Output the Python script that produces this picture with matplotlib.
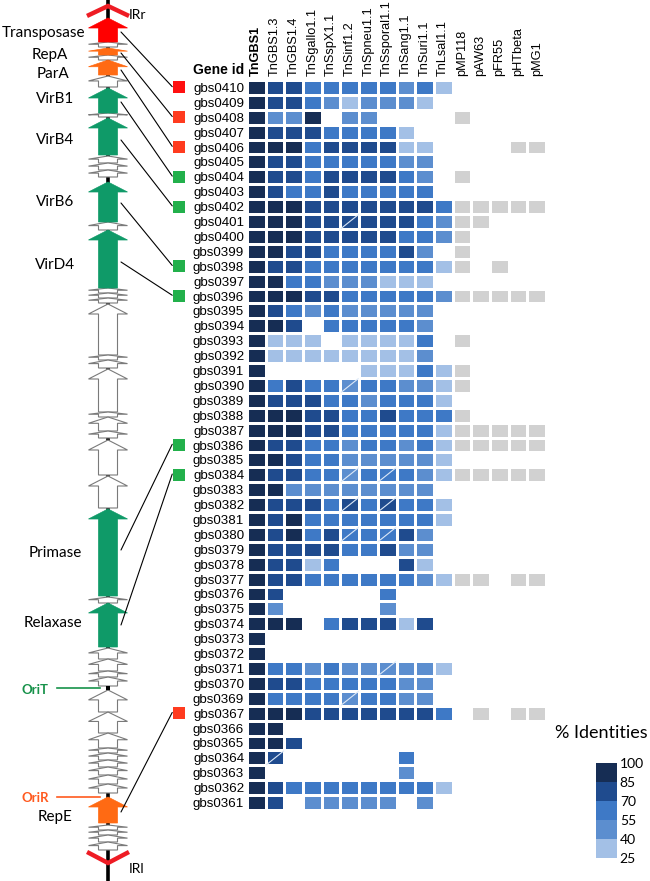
import numpy as np
import matplotlib
matplotlib.use('Agg')
import matplotlib.pyplot as plt
from matplotlib.colors import ListedColormap, BoundaryNorm
from matplotlib.patches import Polygon, Rectangle, ConnectionPatch
import matplotlib.colorbar as mcolorbar

# ---------------- data ----------------
genomes = ['TnGBS1', 'TnGBS1.3', 'TnGBS1.4', 'TnSgallo1.1', 'TnSspX1.1', 'TnSinf1.2',
           'TnSpneu1.1', 'TnSsporal1.1', 'TnSang1.1', 'TnSuri1.1', 'TnLsal1.1',
           'pMP118', 'pAW63', 'pFR55', 'pHTbeta', 'pMG1']

gene_ids = ['gbs0410', 'gbs0409', 'gbs0408', 'gbs0407', 'gbs0406', 'gbs0405', 'gbs0404',
            'gbs0403', 'gbs0402', 'gbs0401', 'gbs0400', 'gbs0399', 'gbs0398', 'gbs0397',
            'gbs0396', 'gbs0395', 'gbs0394', 'gbs0393', 'gbs0392', 'gbs0391', 'gbs0390',
            'gbs0389', 'gbs0388', 'gbs0387', 'gbs0386', 'gbs0385', 'gbs0384', 'gbs0383',
            'gbs0382', 'gbs0381', 'gbs0380', 'gbs0379', 'gbs0378', 'gbs0377', 'gbs0376',
            'gbs0375', 'gbs0374', 'gbs0373', 'gbs0372', 'gbs0371', 'gbs0370', 'gbs0369',
            'gbs0367', 'gbs0366', 'gbs0365', 'gbs0364', 'gbs0363', 'gbs0362', 'gbs0361']

# identity class per cell: 1..5 = bins 25-40 ... 85-100, '.' = absent, 'g' = homolog (grey)
identity_class = [
    '54433333231.....', '5443212221......', '5225.22....g....', '544433331.......',
    '5553444411....gg', '5443333322......', '5443444432.g....', '5433433333......',
    '55544444443ggggg', '55544444432gg...', '55544444332g....', '5544333342.g....',
    '54433333331g.g..', '5533222111......', '55544333332ggggg', '5432322222......',
    '554.333332......', '5111.11113.g....', '5111111112......', '5.....11131g....',
    '53433233221g....', '54443323331.....', '55544334333g....', '55544333331ggggg',
    '54433233231ggggg', '55433222221.....', '54433233321ggggg', '5522222222......',
    '54443434331.....', '54533333331.....', '5453433342......', '5444433422......',
    '54413...41......', '54433333321gg.gg', '54.....3........', '52.....2........',
    '555.344414......', '5...............', '5...............', '53323222221.....',
    '5443333322......', '5333323322......', '55544444443.g.gg', '55..............',
    '554.............', '54......3.......', '5.......2.......', '54333333331.....',
    '54.22222.2......']

split_cells = [('gbs0401', 'TnSinf1.2'), ('gbs0390', 'TnSinf1.2'), ('gbs0384', 'TnSinf1.2'),
               ('gbs0384', 'TnSsporal1.1'), ('gbs0382', 'TnSinf1.2'), ('gbs0382', 'TnSsporal1.1'),
               ('gbs0380', 'TnSinf1.2'), ('gbs0380', 'TnSsporal1.1'), ('gbs0371', 'TnSsporal1.1'),
               ('gbs0369', 'TnSinf1.2'), ('gbs0364', 'TnGBS1.3')]

identity_bins = [25, 40, 55, 70, 85, 100]
bin_colors = ['#a3c0e6', '#5c8ecf', '#3e79c6', '#1f4b8e', '#162d54']

# gene map of TnGBS1 (map units, top -> bottom) and gene type
gene_top = [18, 42, 48, 55, 60, 76, 88, 113, 118, 156, 163, 170, 182, 222, 230, 288, 293, 298,
            304, 355, 360, 369, 412, 417, 431, 440, 476, 509, 597, 603, 648, 659, 671, 677,
            690, 712, 733, 748, 753, 760, 767, 775, 784, 797, 825, 830, 835, 842]
gene_bot = [42, 47, 55, 60, 75, 87, 113, 117, 155, 163, 170, 177, 222, 230, 288, 293, 298, 303,
            355, 360, 368, 412, 417, 431, 438, 475, 508, 596, 603, 647, 659, 671, 677, 686,
            712, 733, 748, 753, 760, 767, 775, 784, 793, 823, 830, 835, 842, 850]
gene_kind = ['r', 'w', 'o', 'w', 'o', 'w', 'g', 'w', 'g', 'w', 'w', 'w', 'g', 'w', 'g', 'w', 'w', 'w',
             'w', 'w', 'w', 'w', 'w', 'w', 'w', 'w', 'w', 'g', 'w', 'g', 'w', 'w', 'w', 'w',
             'w', 'w', 'w', 'w', 'w', 'w', 'w', 'w', 'w', 'o', 'w', 'w', 'w', 'w']

gene_names = ['Transposase', 'RepA', 'ParA', 'VirB1', 'VirB4', 'VirB6', 'VirD4',
              'Primase', 'Relaxase', 'RepE']
gene_name_pos = [33, 55, 74, 99, 140, 202, 265, 553, 623, 817]
gene_link_pos = [32, 53, 70, 102, 140, 203, 262, 550, 625, 812]
gene_link_id = ['gbs0410', 'gbs0408', 'gbs0406', 'gbs0404', 'gbs0402', 'gbs0398', 'gbs0396',
                'gbs0386', 'gbs0384', 'gbs0367']
marker_colors = ['#ff1010', '#ff3b1f', '#ff3b1f', '#22b04b', '#22b04b', '#22b04b', '#22b04b',
                 '#22b04b', '#22b04b', '#ff3b1f']

oriT_pos = 688
oriR_pos = 797

# ---------------- build matrices ----------------
nrow, ncol = len(gene_ids), len(genomes)
ident = np.full((nrow, ncol), np.nan)
grey = np.full((nrow, ncol), np.nan)
for i, s in enumerate(identity_class):
    for j, ch in enumerate(s):
        if ch.isdigit():
            k = int(ch)
            ident[i, j] = (identity_bins[k - 1] + identity_bins[k]) / 2
        elif ch == 'g':
            grey[i, j] = 1

W, H = 650, 881
fig = plt.figure(figsize=(W / 100, H / 100), dpi=100)

# ---------------- heatmap ----------------
ax = fig.add_axes([247 / W, 71 / H, 299 / W, 730 / H])
cmap = ListedColormap(bin_colors)
norm = BoundaryNorm(identity_bins, cmap.N)
ax.pcolormesh(np.arange(ncol + 1), np.arange(nrow + 1), np.ma.masked_invalid(ident),
              cmap=cmap, norm=norm, edgecolors='white', linewidth=1.0)
ax.pcolormesh(np.arange(ncol + 1), np.arange(nrow + 1), np.ma.masked_invalid(grey),
              cmap=ListedColormap(['#d1d1d1']), vmin=0, vmax=2, edgecolors='white', linewidth=1.0)
for g, c in split_cells:
    r = gene_ids.index(g)
    j = genomes.index(c)
    ax.plot([j + 0.05, j + 0.95], [r + 0.95, r + 0.05], color='#dce8f7', lw=0.8)
ax.set_xlim(0, ncol)
ax.set_ylim(nrow, 0)
for sp in ax.spines.values():
    sp.set_visible(False)
ax.xaxis.tick_top()
ax.set_xticks(np.arange(ncol) + 0.5)
ax.set_xticklabels(genomes, rotation=90, fontsize=9.2,
                   family=['Liberation Sans Narrow', 'Liberation Sans'])
ax.get_xticklabels()[0].set_fontweight('bold')
ax.set_yticks(np.arange(nrow) + 0.5)
ax.set_yticklabels(gene_ids, fontsize=9.6, family='Liberation Sans')
ax.tick_params(length=0, pad=2)
ax.tick_params(axis='x', pad=3)
ax.text(-0.15, -0.65, 'Gene id', ha='right', va='center', fontsize=10,
        fontweight='bold', family='Liberation Sans')

# ---------------- gene map ----------------
mx = fig.add_axes([0, 0, 247 / W, 1])
mx.set_xlim(0, 247)
mx.set_ylim(H, 0)
mx.axis('off')
cx, bw, hw = 108, 9.5, 19.5
mx.plot([cx, cx], [0, H], color='black', lw=2.6, zorder=1)
kind_color = {'r': '#ff0000', 'o': '#ff6a13', 'g': '#0f9a68', 'w': 'white'}
for t, b, k in zip(gene_top, gene_bot, gene_kind):
    hl = min(10.0, 0.45 * (b - t))
    pts = [(cx, t), (cx + hw, t + hl), (cx + bw, t + hl), (cx + bw, b),
           (cx - bw, b), (cx - bw, t + hl), (cx - hw, t + hl)]
    if k == 'w':
        poly = Polygon(pts, closed=True, facecolor='white', edgecolor='#7a7a7a', lw=0.8, zorder=2)
    else:
        poly = Polygon(pts, closed=True, facecolor=kind_color[k], edgecolor=kind_color[k],
                       lw=0.5, zorder=3)
    mx.add_patch(poly)

# inverted repeats
mx.plot([cx - 19, cx, cx + 19], [15, 6, 15], color='#ee1c24', lw=3.2, solid_joinstyle='miter', zorder=4)
mx.plot([cx - 19, cx, cx + 19], [853, 863, 853], color='#ee1c24', lw=3.2, solid_joinstyle='miter', zorder=4)
mx.text(129, 15, 'IRr', fontsize=10, family='Lato', va='center', ha='left')
mx.text(129, 869, 'IRl', fontsize=10, family='Lato', va='center', ha='left')

# origins
mx.add_patch(Rectangle((cx - 2, oriT_pos - 2), 4, 4, facecolor='black', zorder=4))
mx.plot([57, 100], [oriT_pos, oriT_pos], color='#17924a', lw=1.2)
mx.text(35, oriT_pos + 2, 'OriT', fontsize=9.5, fontweight='bold', color='#17924a',
        family='Lato', ha='center', va='center')
mx.plot([57, 100], [oriR_pos, oriR_pos], color='#ff5a1f', lw=1.2)
mx.text(35, oriR_pos + 1, 'OriR', fontsize=9.5, fontweight='bold', color='#ff5a1f',
        family='Lato', ha='center', va='center')

name_x = [44, 50, 53, 55, 55, 55, 55, 55, 53, 55]
for name, nx, ny in zip(gene_names, name_x, gene_name_pos):
    mx.text(nx, ny, name, fontsize=11, family='Lato', ha='center', va='center')

# markers and links
for gy, gid, col in zip(gene_link_pos, gene_link_id, marker_colors):
    r = gene_ids.index(gid)
    ax.add_patch(Rectangle((-3.96, r + 0.1), 0.64, 0.8, facecolor=col, edgecolor='none',
                           clip_on=False))
    con = ConnectionPatch(xyA=(121, gy), coordsA=mx.transData,
                          xyB=(-4.0, r + 0.45), coordsB=ax.transData,
                          color='black', lw=0.8)
    fig.add_artist(con)

# ---------------- colorbar ----------------
cax = fig.add_axes([596 / W, 23 / H, 21 / W, 95 / H])
cb = mcolorbar.ColorbarBase(cax, cmap=cmap, norm=norm, boundaries=identity_bins,
                            ticks=identity_bins, spacing='uniform')
cb.outline.set_visible(False)
cax.tick_params(length=0, pad=2, labelsize=10)
for lbl in cax.get_yticklabels():
    lbl.set_family('Lato')
fig.text(601 / W, 1 - 733 / H, '% Identities', fontsize=13, family='Lato',
         ha='center', va='center')

fig.savefig('out.png', dpi=100)
